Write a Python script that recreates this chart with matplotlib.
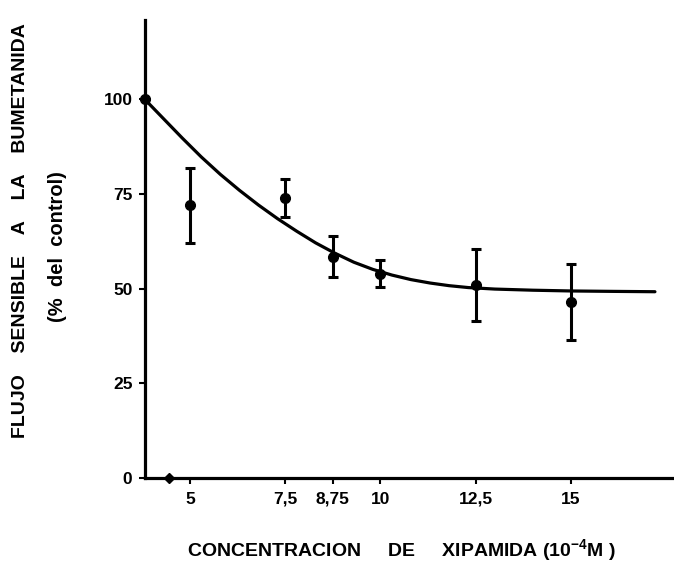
import matplotlib
matplotlib.use("Agg")
import matplotlib.pyplot as plt

# concentration (10^-4 M); first point is the control, drawn at the axis origin
conc = [3.82, 5, 7.5, 8.75, 10, 12.5, 15]
flux = [100, 72, 74, 58.5, 54, 51, 46.5]
err = [0, 10, 5, 5.5, 3.5, 9.5, 10]

# fitted curve
curve_x = [3.82, 4.3, 4.8, 5.3, 5.8, 6.3, 6.8, 7.3, 7.8, 8.3, 8.8, 9.3, 9.8,
           10.3, 10.8, 11.3, 11.8, 12.3, 13, 14, 15, 16, 17.2]
curve_y = [100, 95.0, 89.8, 84.8, 80.2, 76.0, 72.1, 68.5, 65.2, 62.1, 59.4,
           57.0, 55.1, 53.6, 52.4, 51.5, 50.8, 50.3, 49.9, 49.6, 49.4, 49.3, 49.2]

x_ticks = [5, 7.5, 8.75, 10, 12.5, 15]
x_tick_labels = ["5", "7,5", "8,75", "10", "12,5", "15"]
y_ticks = [0, 25, 50, 75, 100]
y_tick_labels = ["0", "25", "50", "75", "100"]
BREAK_X = 4.45

plt.rcParams["font.family"] = ["Liberation Sans", "DejaVu Sans"]
plt.rcParams["font.weight"] = "bold"
plt.rcParams["mathtext.fontset"] = "custom"
plt.rcParams["mathtext.rm"] = "Liberation Sans:bold"
plt.rcParams["mathtext.bf"] = "Liberation Sans:bold"
plt.rcParams["mathtext.default"] = "bf"

fig = plt.figure(figsize=(6.74, 5.71), dpi=100)
ax = fig.add_axes([0.215, 0.163, 0.785, 0.802])

ax.plot(curve_x, curve_y, color="black", lw=2.3, solid_capstyle="round", clip_on=False)
ax.errorbar(conc, flux, yerr=err, fmt="o", color="black", ms=7,
            elinewidth=2.2, capsize=3.5, capthick=2.2, clip_on=False, zorder=3)

# axis break mark
ax.plot([BREAK_X], [0], marker="D", ms=5, color="black", clip_on=False, zorder=4)

ax.set_xlim(3.82, 17.7)
ax.set_ylim(0, 121)
for side in ["top", "right"]:
    ax.spines[side].set_visible(False)
for side in ["left", "bottom"]:
    ax.spines[side].set_linewidth(2.3)

ax.set_xticks(x_ticks, x_tick_labels)
ax.set_yticks(y_ticks, y_tick_labels)
ax.tick_params(axis="both", length=4, width=1.5, labelsize=12.5)
ax.tick_params(axis="x", pad=6)
ax.tick_params(axis="y", pad=5)

ax.set_xlabel("CONCENTRACION     DE     XIPAMIDA (10$^{-4}$M )", fontsize=14,
              fontweight="bold", va="center")
ax.xaxis.set_label_coords(0.484, -0.157)

fig.text(0.03, 0.597, "FLUJO    SENSIBLE    A    LA    BUMETANIDA", rotation=90,
         ha="center", va="center", fontsize=14, fontweight="bold")
fig.text(0.086, 0.569, "(%  del  control)", rotation=90,
         ha="center", va="center", fontsize=14.5, fontweight="bold")

fig.savefig("out.png", dpi=100)
